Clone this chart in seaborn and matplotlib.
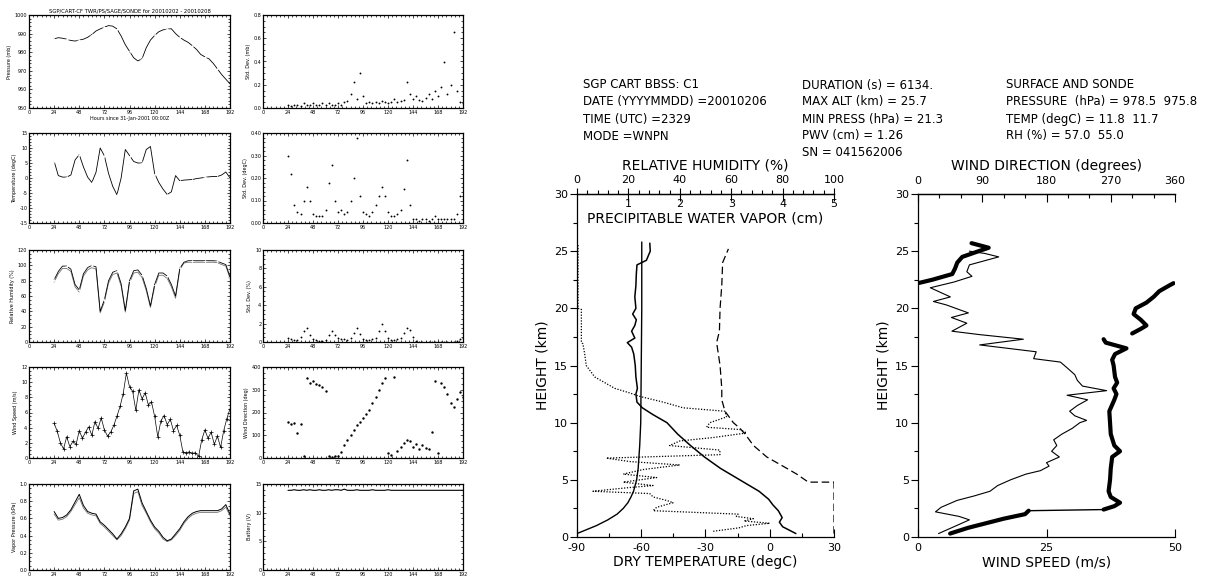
import numpy as np
import pandas as pd
import matplotlib
matplotlib.use("Agg")
import matplotlib.pyplot as plt
from matplotlib.ticker import MultipleLocator, FixedLocator, FormatStrFormatter
import seaborn as sns

W, H = 1213, 579

# ---- surface station time series (hours since start) ----
hours4 = list(range(24, 193, 4))
hours3 = list(range(24, 193, 3))

pressure = [987.2, 987.8, 987.5, 987.0, 986.3, 986.0, 986.5, 987.0, 988.0, 989.5,
            991.4, 992.5, 993.5, 994.3, 994.0, 992.5, 988.7, 984.0, 980.5, 977.0,
            975.3, 976.5, 982.4, 986.5, 989.0, 991.0, 992.0, 992.4, 992.6, 990.0,
            988.0, 986.5, 985.3, 983.5, 981.5, 978.8, 977.5, 976.4, 974.0, 971.0,
            968.0, 965.5, 963.0]
temperature = [5.6, 0.8, 0.3, 0.3, 1.0, 6.0, 7.8, 3.7, 0.3, -1.5,
               1.9, 10.0, 7.4, 1.5, -2.8, -5.6, 0.0, 9.5, 7.5, 5.5,
               5.0, 5.0, 9.5, 10.5, 1.5, -1.5, -3.7, -5.5, -4.6, 0.8,
               -0.9, -0.7, -0.6, -0.5, -0.2, 0.0, 0.2, 0.4, 0.5, 0.5,
               1.0, 2.0, 0.0]
rel_hum = [81, 92, 99, 99, 95, 75, 68, 89, 97, 100,
           98, 40, 55, 80, 91, 93, 76, 41, 80, 93,
           94, 87, 70, 47, 75, 90, 90, 86, 75, 60,
           96, 104, 106, 106, 106, 106, 106, 106, 106, 105.5,
           103, 101, 85]
rel_hum2 = [78, 89, 96, 96, 92, 72, 65, 86, 94, 97,
            95, 38, 52, 77, 88, 90, 73, 39, 77, 90,
            91, 84, 67, 45, 72, 87, 87, 83, 72, 57,
            94, 103, 104, 104, 104, 104, 104, 104, 104, 103.5,
            101, 99, 83]
wind_speed = [4.6, 3.5, 2.0, 1.2, 2.8, 1.5, 2.2, 1.8, 3.6, 2.6,
              3.4, 4.1, 3.0, 4.8, 3.9, 5.3, 3.7, 2.9, 3.4, 4.3,
              5.5, 6.8, 8.5, 11.2, 9.4, 8.8, 6.3, 9.0, 7.8, 8.6,
              7.0, 7.4, 5.5, 2.8, 4.9, 5.6, 4.4, 5.1, 3.6, 4.3,
              3.0, 0.8, 0.7, 0.8, 0.6, 0.7, 0.2, 2.4, 3.7, 2.6,
              3.4, 1.8, 2.9, 1.4, 3.6, 5.2, 6.5]
vapor = [0.68, 0.60, 0.61, 0.64, 0.70, 0.79, 0.88, 0.75, 0.68, 0.66,
         0.65, 0.56, 0.52, 0.47, 0.42, 0.36, 0.42, 0.50, 0.60, 0.92,
         0.94, 0.78, 0.68, 0.58, 0.50, 0.45, 0.38, 0.34, 0.36, 0.42,
         0.48, 0.56, 0.62, 0.66, 0.68, 0.69, 0.69, 0.69, 0.69, 0.69,
         0.71, 0.76, 0.65]
vapor2 = [0.65, 0.58, 0.59, 0.62, 0.68, 0.76, 0.84, 0.72, 0.66, 0.64,
          0.63, 0.54, 0.50, 0.45, 0.40, 0.35, 0.40, 0.48, 0.58, 0.89,
          0.91, 0.75, 0.66, 0.56, 0.48, 0.43, 0.36, 0.33, 0.35, 0.40,
          0.46, 0.54, 0.60, 0.64, 0.66, 0.67, 0.67, 0.67, 0.67, 0.67,
          0.69, 0.73, 0.63]
sd_pressure = [.03, .02, .03, .03, .02, .04, .03, .03, .04, .03,
               .03, .04, .03, .04, .03, .03, .04, .03, .05, .06,
               .12, .22, .08, .30, .10, .04, .05, .04, .05, .04,
               .06, .05, .04, .05, .08, .05, .06, .07, .22, .12,
               .08, .10, .07, .06, .09, .12, .08, .15, .10, .18,
               .40, .12, .20, .65, .15, .05, .04]
sd_temp = [.30, .22, .08, .05, .04, .10, .16, .10, .04, .03,
           .03, .03, .06, .18, .26, .10, .05, .06, .04, .05,
           .10, .20, .38, .12, .05, .04, .03, .05, .08, .12,
           .16, .12, .05, .03, .03, .04, .06, .15, .28, .08,
           .02, .02, .01, .02, .02, .01, .02, .03, .02, .02,
           .02, .02, .02, .02, .04, .12, .06]
sd_rh = [.4, .3, .2, .2, .5, 1.2, 1.5, .8, .3, .2,
         .1, .1, .2, .8, 1.2, .8, .4, .3, .3, .2,
         .4, 1.0, 1.5, .9, .3, .2, .2, .3, .4, 1.2,
         2.0, 1.2, .4, .2, .2, .3, .4, 1.0, 1.5, 1.3,
         .5, .1, .05, .03, .03, .03, .03, .03, .03, .03,
         .03, .03, .03, .03, .1, .3, .4]
wind_dir = [160, 150, 155, 110, 150, 10, 350, 330, 340, 325,
            320, 310, 295, 10, 5, 8, 10, 25, 55, 80,
            100, 125, 145, 160, 175, 195, 210, 240, 270, 300,
            330, 350, 20, 15, 355, 30, 50, 65, 80, 75,
            50, 60, 40, 55, 45, 40, 115, 340, 20, 330,
            310, 280, 240, 225, 260, 290, 270]
battery = [13.9, 13.9, 14.0, 13.9, 13.9, 14.0, 13.9, 14.0, 13.9, 13.9,
           14.0, 13.9, 13.9, 14.0, 13.9, 14.0, 14.0, 13.9, 14.1, 13.9,
           13.9, 13.9, 14.0, 13.9, 13.9, 13.9, 13.9, 14.0, 13.9, 13.9,
           13.9, 13.9, 14.0, 13.9, 13.9, 13.9, 13.9, 13.9, 13.9, 13.9,
           13.9, 13.9, 13.9, 13.9, 13.9, 13.9, 13.9, 13.9, 13.9, 13.9,
           13.9, 13.9, 13.9, 13.9, 13.9, 13.9, 13.9]

# ---- sonde profile ----
temp_height = [0.3, 0.9, 1.3, 1.7, 2.3, 2.8, 3.3, 4.0, 5.0, 6.0,
               7.0, 8.0, 9.0, 10.0, 10.7, 11.3, 11.8, 12.5, 13.0, 14.0,
               15.0, 16.0, 16.6, 17.0, 17.4, 18.0, 18.5, 19.0, 19.5, 20.0,
               21.0, 22.0, 23.0, 23.8, 24.2, 25.0, 25.7]
temp_c = [12.2, 6.0, 4.5, 5.8, 4.0, 1.5, -0.5, -5.0, -14.0, -23.0,
          -30.5, -37.0, -43.0, -48.0, -54.5, -59.5, -62.0, -62.5, -61.8, -62.5,
          -62.8, -63.5, -64.5, -66.5, -63.0, -64.5, -63.0, -62.3, -64.0, -62.5,
          -63.0, -62.5, -62.3, -62.0, -57.6, -55.8, -56.0]
aux_height = [0.3, 4.8, 4.8, 5.5, 6.0, 7.0, 8.0, 9.0, 9.5, 10.0,
              11.0, 12.0, 13.0, 15.0, 17.0, 18.0, 20.0, 22.0, 24.0, 25.2]
aux_c = [30, 30, 18, 12.6, 8, -1.4, -7.6, -11.5, -13.9, -17,
         -20.9, -22.4, -22.4, -23.2, -24.8, -23.5, -23.2, -22.4, -22, -19.3]
rh_height = [0.5, 0.8, 1.0, 1.2, 1.4, 1.6, 1.8, 2.0, 2.3, 2.6,
             3.0, 3.2, 3.5, 3.8, 4.0, 4.3, 4.5, 4.8, 5.2, 5.5,
             5.9, 6.3, 6.6, 6.9, 7.2, 7.6, 8.0, 8.4, 8.7, 9.1,
             9.4, 9.6, 10.0, 10.5, 11.0, 11.3, 11.8, 12.3, 12.6, 13.0,
             14.0, 15.0, 16.0, 16.9, 17.0, 19.9, 20.0, 25.6]
rh_pct = [53, 63, 66, 75, 65, 68.6, 62, 62.7, 29.6, 31,
          37.4, 34.8, 29.6, 28.3, 6.2, 19.2, 29.6, 18, 31, 18,
          25.7, 40, 20.5, 11.4, 55.6, 55.6, 36, 40, 53, 66,
          63.4, 50.4, 51.7, 58.2, 57.5, 41.3, 33.5, 24.4, 20.5, 14.7,
          6.9, 3.6, 3.0, 2.3, 1.7, 1.7, 0.4, 0.4]
pwv_height = [0.3, 1.0, 1.5, 2.0, 2.5, 3.0, 3.5, 4.0, 5.0, 6.0, 8.0, 10.0, 15.0, 20.0, 25.8]
pwv_cm = [0.0, 0.38, 0.60, 0.78, 0.90, 0.99, 1.05, 1.10, 1.16, 1.19, 1.22, 1.24, 1.25, 1.26, 1.26]

ws_height = [0.3, 0.8, 1.2, 1.5, 1.8, 2.2, 2.6, 3.2, 3.6, 4.0,
             4.5, 5.0, 5.5, 5.8, 6.2, 6.5, 7.0, 7.5, 8.0, 8.5,
             9.0, 9.5, 10.0, 10.2, 10.6, 11.0, 11.5, 12.0, 12.4, 12.8,
             13.2, 13.7, 14.2, 14.8, 15.3, 15.6, 16.2, 16.8, 17.3, 17.7,
             18.0, 18.7, 19.2, 19.6, 20.3, 20.6, 21.0, 21.8, 22.3, 22.8,
             23.2, 23.8, 24.5, 24.8, 25.0]
ws_ms = [4.0, 6.5, 8.5, 10.0, 8.0, 3.4, 4.5, 7.6, 11.0, 14.0,
         15.5, 18.0, 21.0, 23.8, 25.5, 25.0, 27.5, 26.0, 27.0, 26.4,
         28.0, 30.0, 31.5, 32.8, 30.5, 29.5, 31.0, 33.0, 29.0, 36.7,
         32.0, 31.0, 30.5, 29.0, 27.7, 22.5, 23.0, 12.0, 20.5, 12.0,
         6.6, 9.5, 6.5, 9.8, 5.5, 3.0, 6.3, 2.4, 7.0, 10.5,
         9.5, 10.0, 15.7, 13.0, 10.0]
wd_height_low = [0.3, 0.8, 1.2, 1.6, 2.0, 2.3]
wd_deg_low = [45, 70, 95, 120, 150, 155]
wd_height_jump = [2.3, 2.4]
wd_deg_jump = [155, 260]
wd_height_trop = [2.4, 2.7, 3.0, 3.5, 4.0, 5.0, 6.0, 7.0, 7.5, 8.0,
                  9.0, 10.0, 11.0, 12.0, 12.5, 13.0, 13.5, 14.0, 15.0, 15.5,
                  16.0, 16.5, 17.0, 17.3]
wd_deg_trop = [260, 275, 283, 270, 267, 269, 270, 272, 283, 275,
               270, 269, 268, 275, 278, 274, 279, 276, 274, 272,
               276, 292, 263, 260]
wd_height_mid = [17.8, 18.2, 18.5, 19.0, 19.5, 20.0, 20.5, 21.0, 21.5, 22.0, 22.2]
wd_deg_mid = [300, 312, 320, 312, 302, 305, 320, 330, 338, 352, 358]
wd_height_top = [22.2, 22.5, 23.0, 23.5, 24.0, 24.5, 25.0, 25.3, 25.7]
wd_deg_top = [0, 20, 48, 52, 55, 62, 85, 99, 75]

header = [
    ["SGP CART BBSS: C1", "DATE (YYYYMMDD) =20010206", "TIME (UTC) =2329", "MODE =WNPN"],
    ["DURATION (s) = 6134.", "MAX ALT (km) = 25.7", "MIN PRESS (hPa) = 21.3",
     "PWV (cm) = 1.26", "SN = 041562006"],
    ["SURFACE AND SONDE", "PRESSURE  (hPa) = 978.5  975.8", "TEMP (degC) = 11.8  11.7",
     "RH (%) = 57.0  55.0"],
]

sns.set_theme(style="ticks")
plt.rcParams["font.family"] = ["DejaVu Sans"]
plt.rcParams["axes.unicode_minus"] = False
for key in ["text.color", "axes.labelcolor", "xtick.color", "ytick.color", "axes.edgecolor"]:
    plt.rcParams[key] = "black"

fig = plt.figure(figsize=(W / 100, H / 100), dpi=100)


def px_axes(x0, y0, x1, y1):
    return fig.add_axes([x0 / W, 1 - y1 / H, (x1 - x0) / W, (y1 - y0) / H])


def style_ts(ax, ylabel, ylim, ystep, yminor, fmt):
    ax.set_xlim(0, 192)
    ax.set_ylim(*ylim)
    ax.xaxis.set_major_locator(MultipleLocator(24))
    ax.xaxis.set_minor_locator(MultipleLocator(4))
    ax.yaxis.set_major_locator(MultipleLocator(ystep))
    ax.yaxis.set_minor_locator(MultipleLocator(yminor))
    ax.yaxis.set_major_formatter(FormatStrFormatter(fmt))
    ax.tick_params(which="both", direction="in", top=True, right=True,
                   labelsize=3.5, width=0.5, pad=1.2, colors="black")
    ax.tick_params(which="major", length=2.5)
    ax.tick_params(which="minor", length=1.2)
    ax.set_xlabel("")
    ax.set_ylabel(ylabel, fontsize=3.5, labelpad=2)
    for s in ax.spines.values():
        s.set_linewidth(0.9)
        s.set_color("black")


lcol = (29, 230)
rcol = (263, 463)
rows = [(15, 108), (133, 223), (250, 342), (367, 458), (484, 570)]

line_kw = dict(color="black", lw=0.6, marker="+", markersize=2.5,
               markevery=3, markeredgewidth=0.5)
dot_kw = dict(color="black", s=1.8, linewidth=0)

# left column
ax = px_axes(lcol[0], rows[0][0], lcol[1], rows[0][1])
sns.lineplot(x=hours4, y=pressure, ax=ax, **line_kw)
style_ts(ax, "Pressure (mb)", (950, 1000), 10, 2, "%d")
ax.set_title("SGP/CART-CF TWR/PS/SAGE/SONDE for 20010202 - 20010208", fontsize=3.8, pad=1.5)
ax.set_xlabel("Hours since 31-Jan-2001 00:00Z", fontsize=3.5, labelpad=1)

ax = px_axes(lcol[0], rows[1][0], lcol[1], rows[1][1])
sns.lineplot(x=hours4, y=temperature, ax=ax, **line_kw)
style_ts(ax, "Temperature (degC)", (-15, 15), 5, 1, "%d")

ax = px_axes(lcol[0], rows[2][0], lcol[1], rows[2][1])
sns.lineplot(x=hours4, y=rel_hum2, ax=ax, color="0.45", lw=0.6)
sns.lineplot(x=hours4, y=rel_hum, ax=ax, **line_kw)
style_ts(ax, "Relative Humidity (%)", (0, 120), 20, 5, "%d")

ax = px_axes(lcol[0], rows[3][0], lcol[1], rows[3][1])
sns.lineplot(x=hours3, y=wind_speed, ax=ax, color="black", lw=0.5)
sns.scatterplot(x=hours3, y=wind_speed, ax=ax, marker="+", s=6, color="black", linewidth=0.5)
style_ts(ax, "Wind Speed (m/s)", (0, 12), 2, 0.5, "%d")

ax = px_axes(lcol[0], rows[4][0], lcol[1], rows[4][1])
sns.lineplot(x=hours4, y=vapor2, ax=ax, color="0.45", lw=0.6)
sns.lineplot(x=hours4, y=vapor, ax=ax, color="black", lw=0.7)
style_ts(ax, "Vapor Pressure (kPa)", (0, 1.0), 0.2, 0.05, "%.1f")

# right column
ax = px_axes(rcol[0], rows[0][0], rcol[1], rows[0][1])
sns.scatterplot(x=hours3, y=sd_pressure, ax=ax, **dot_kw)
style_ts(ax, "Std. Dev. (mb)", (0, 0.8), 0.2, 0.05, "%.1f")

ax = px_axes(rcol[0], rows[1][0], rcol[1], rows[1][1])
sns.scatterplot(x=hours3, y=sd_temp, ax=ax, **dot_kw)
style_ts(ax, "Std. Dev. (degC)", (0, 0.4), 0.1, 0.02, "%.2f")

ax = px_axes(rcol[0], rows[2][0], rcol[1], rows[2][1])
sns.scatterplot(x=hours3, y=sd_rh, ax=ax, **dot_kw)
style_ts(ax, "Std. Dev. (%)", (0, 10), 2, 0.5, "%d")

ax = px_axes(rcol[0], rows[3][0], rcol[1], rows[3][1])
sns.scatterplot(x=hours3, y=wind_dir, ax=ax, color="black", s=3, linewidth=0)
style_ts(ax, "Wind Direction (deg)", (0, 400), 100, 25, "%d")

ax = px_axes(rcol[0], rows[4][0], rcol[1], rows[4][1])
sns.lineplot(x=hours3, y=battery, ax=ax, color="black", lw=0.8)
style_ts(ax, "Battery (V)", (0, 15), 5, 1, "%d")

# ---- header block ----
cols_x = [583, 802, 1006]
rows_y = [85, 102, 119, 136, 152]
for cx, lines in zip(cols_x, header):
    for ry, txt in zip(rows_y, lines):
        fig.text(cx / W, 1 - ry / H, txt, fontsize=8.5, va="center", ha="left")


def style_height(ax):
    ax.set_ylim(0, 30)
    ax.yaxis.set_major_locator(MultipleLocator(5))
    ax.yaxis.set_minor_locator(MultipleLocator(2.5))
    ax.tick_params(axis="y", which="both", direction="out", left=True, right=False,
                   labelsize=8, pad=1.5, width=0.8)
    ax.tick_params(axis="y", which="major", length=5)
    ax.tick_params(axis="y", which="minor", length=3)
    ax.set_ylabel("HEIGHT (km)", fontsize=10, labelpad=3)
    ax.spines["right"].set_visible(False)
    for s in ["left", "bottom", "top"]:
        ax.spines[s].set_linewidth(0.9)
        ax.spines[s].set_color("black")


def twin_top(ax):
    tw = ax.twiny()
    for s in ["left", "right", "bottom", "top"]:
        tw.spines[s].set_visible(False)
    return tw


# ---- left sounding: temperature / RH / PWV ----
ax_t = px_axes(577, 194, 834, 537)
sns.lineplot(x=temp_c, y=temp_height, ax=ax_t, sort=False, estimator=None,
             color="black", lw=1.1)
sns.lineplot(x=aux_c, y=aux_height, ax=ax_t, sort=False, estimator=None,
             color="black", lw=0.9, linestyle=(0, (6, 3)))
ax_t.set_xlim(-90, 30)
ax_t.xaxis.set_major_locator(MultipleLocator(30))
ax_t.xaxis.set_minor_locator(MultipleLocator(15))
ax_t.tick_params(axis="x", which="both", direction="in", bottom=True, top=False,
                 labelsize=8, pad=4, width=0.8)
ax_t.tick_params(axis="x", which="major", length=6)
ax_t.tick_params(axis="x", which="minor", length=3)
ax_t.set_xlabel("DRY TEMPERATURE (degC)", fontsize=10, labelpad=2)
style_height(ax_t)

ax_rh = twin_top(ax_t)
sns.lineplot(x=rh_pct, y=rh_height, ax=ax_rh, sort=False, estimator=None,
             color="black", lw=0.9, linestyle=(0, (1, 1.3)))
ax_rh.set_xlim(0, 100)
ax_rh.spines["top"].set_visible(True)
ax_rh.spines["top"].set_linewidth(0.9)
ax_rh.xaxis.set_major_locator(MultipleLocator(20))
ax_rh.xaxis.set_minor_locator(MultipleLocator(4))
ax_rh.tick_params(axis="x", which="both", direction="out", top=True, bottom=False,
                  labeltop=True, labelbottom=False, labelsize=8, pad=2.5, width=0.8)
ax_rh.tick_params(axis="x", which="major", length=4)
ax_rh.tick_params(axis="x", which="minor", length=3)
ax_rh.xaxis.set_label_position("top")
ax_rh.set_xlabel("RELATIVE HUMIDITY (%)", fontsize=10, labelpad=4)
ax_rh.set_ylabel("")

ax_pwv = twin_top(ax_t)
sns.lineplot(x=pwv_cm, y=pwv_height, ax=ax_pwv, sort=False, estimator=None,
             color="black", lw=1.0)
ax_pwv.set_xlim(0, 5)
ax_pwv.xaxis.set_major_locator(FixedLocator([1, 2, 3, 4, 5]))
ax_pwv.xaxis.set_major_formatter(FormatStrFormatter("%d"))
ax_pwv.tick_params(axis="x", which="major", direction="in", top=True, bottom=False,
                   labeltop=True, labelbottom=False, labelsize=8, pad=-10.5,
                   length=5, width=0.8)
ax_pwv.set_xlabel("")
ax_pwv.set_ylabel("")
ax_pwv.text(0.5, 1 - 24 / 343, "PRECIPITABLE WATER VAPOR (cm)", transform=ax_pwv.transAxes,
            fontsize=10, ha="center", va="center")

# ---- right sounding: wind ----
ax_w = px_axes(918, 194, 1175, 537)
sns.lineplot(x=ws_ms, y=ws_height, ax=ax_w, sort=False, estimator=None,
             color="black", lw=0.8)
ax_w.set_xlim(0, 50)
ax_w.xaxis.set_major_locator(MultipleLocator(25))
ax_w.xaxis.set_minor_locator(MultipleLocator(5))
ax_w.tick_params(axis="x", which="both", direction="in", bottom=True, top=False,
                 labelsize=8, pad=4, width=0.8)
ax_w.tick_params(axis="x", which="major", length=6)
ax_w.tick_params(axis="x", which="minor", length=0)
ax_w.set_xlabel("WIND SPEED (m/s)", fontsize=10, labelpad=2)
style_height(ax_w)

wd = pd.concat([
    pd.DataFrame({"height": wd_height_low, "direction": wd_deg_low, "seg": 0}),
    pd.DataFrame({"height": wd_height_trop, "direction": wd_deg_trop, "seg": 1}),
    pd.DataFrame({"height": wd_height_mid, "direction": wd_deg_mid, "seg": 2}),
    pd.DataFrame({"height": wd_height_top, "direction": wd_deg_top, "seg": 3}),
])
ax_d = twin_top(ax_w)
sns.lineplot(data=wd, x="direction", y="height", units="seg", ax=ax_d, sort=False,
             estimator=None, color="black", lw=3.0, solid_capstyle="round")
sns.lineplot(x=wd_deg_jump, y=wd_height_jump, ax=ax_d, sort=False, estimator=None,
             color="black", lw=1.0)
ax_d.set_xlim(0, 360)
ax_d.spines["top"].set_visible(True)
ax_d.spines["top"].set_linewidth(0.9)
ax_d.xaxis.set_major_locator(MultipleLocator(90))
ax_d.xaxis.set_minor_locator(MultipleLocator(30))
ax_d.tick_params(axis="x", which="both", direction="in", top=True, bottom=False,
                 labeltop=True, labelbottom=False, labelsize=8, pad=6, width=0.8)
ax_d.tick_params(axis="x", which="major", length=6)
ax_d.tick_params(axis="x", which="minor", length=3)
ax_d.xaxis.set_label_position("top")
ax_d.set_xlabel("WIND DIRECTION (degrees)", fontsize=10, labelpad=4)
ax_d.set_ylabel("")

fig.savefig("out.png", dpi=100, facecolor="white")
